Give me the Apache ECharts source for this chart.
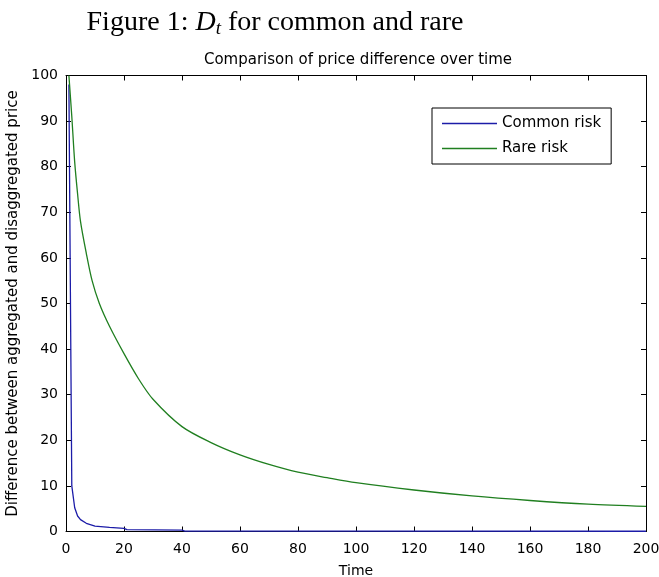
<!DOCTYPE html>
<html>
<head>
<meta charset="utf-8">
<script src="https://cdn.jsdelivr.net/npm/echarts@6/dist/echarts.min.js"></script>
<style>
  html, body { margin: 0; padding: 0; background: #fff; }
  #chart { width: 659px; height: 577px; }
</style>
</head>
<body>
<div id="chart"></div>
<script>
var commonTime  = [1, 2, 3, 4, 5, 7, 10, 15, 20, 21, 40, 41, 100, 200];
var commonValue = [98, 10, 5.2, 3.4, 2.6, 1.8, 1.2, 0.9, 0.7, 0.4, 0.3, 0.1, 0.08, 0.05];

var rareTime  = [1, 2, 3, 4, 5, 7, 9, 11.5, 15, 20, 25, 30, 40, 50, 60, 70, 80, 90, 100, 120, 140, 160, 180, 200];
var rareValue = [100, 91, 81, 74, 68, 61, 55, 50, 45, 39, 33.5, 29, 23, 19.5, 16.8, 14.7, 13, 11.8, 10.7, 9.1, 7.8, 6.8, 6.0, 5.5];

var xTicks = { min: 0, max: 200, interval: 20 };
var yTicks = { min: 0, max: 100, interval: 10 };

function pairs(xs, ys) {
    return xs.map(function (x, i) { return [x, ys[i]]; });
}

var labelFont = 'DejaVu Sans';
var axisLine = { show: true, onZero: false, lineStyle: { color: '#000', width: 1 } };
var inTick = { show: true, inside: true, length: 5, lineStyle: { color: '#000' } };

var chart = echarts.init(document.getElementById('chart'));
chart.setOption({
    backgroundColor: '#fff',
    animation: false,
    title: [
        {
            text: 'Figure 1: {i|D}{s|t} for common and rare',
            left: 270, top: 2, textAlign: 'center',
            textStyle: {
                fontFamily: 'Liberation Serif', fontSize: 28, fontWeight: 'normal', color: '#000',
                rich: {
                    i: { fontFamily: 'Liberation Serif', fontStyle: 'italic', fontSize: 28, color: '#000' },
                    s: { fontFamily: 'Liberation Serif', fontStyle: 'italic', fontSize: 19, color: '#000', padding: [12, 0, 0, 0] }
                }
            }
        },
        {
            text: 'Comparison of price difference over time',
            left: 353, top: 48, textAlign: 'center',
            textStyle: { fontFamily: labelFont, fontSize: 15, fontWeight: 'normal', color: '#000' }
        }
    ],
    legend: {
        orient: 'vertical',
        left: 432, top: 108,
        padding: [8, 10, 8, 10],
        itemGap: 10,
        itemWidth: 55, itemHeight: 1.5,
        icon: 'rect',
        borderColor: '#000', borderWidth: 1,
        backgroundColor: '#fff',
        textStyle: { fontFamily: labelFont, fontSize: 15, color: '#000' },
        data: ['Common risk', 'Rare risk']
    },
    grid: { left: 66, right: 13, top: 75.5, bottom: 45.5, show: false, outerBoundsMode: 'none', containLabel: false },
    xAxis: [
        {
            type: 'value', min: xTicks.min, max: xTicks.max, interval: xTicks.interval,
            name: 'Time', nameLocation: 'middle', nameGap: 33,
            nameTextStyle: { fontFamily: labelFont, fontSize: 14, color: '#000' },
            axisLine: axisLine, axisTick: inTick,
            axisLabel: { fontFamily: labelFont, fontSize: 14, color: '#000', margin: 11 },
            splitLine: { show: false }
        },
        {
            type: 'value', position: 'top', min: xTicks.min, max: xTicks.max, interval: xTicks.interval,
            axisLine: axisLine, axisTick: inTick, axisLabel: { show: false }, splitLine: { show: false }
        }
    ],
    yAxis: [
        {
            type: 'value', min: yTicks.min, max: yTicks.max, interval: yTicks.interval,
            name: 'Difference between aggregated and disaggregated price',
            nameLocation: 'middle', nameGap: 45,
            nameTextStyle: { fontFamily: labelFont, fontSize: 15, color: '#000' },
            axisLine: axisLine, axisTick: inTick,
            axisLabel: { fontFamily: labelFont, fontSize: 14, color: '#000', margin: 8 },
            splitLine: { show: false }
        },
        {
            type: 'value', position: 'right', min: yTicks.min, max: yTicks.max, interval: yTicks.interval,
            axisLine: axisLine, axisTick: inTick, axisLabel: { show: false }, splitLine: { show: false }
        }
    ],
    series: [
        {
            name: 'Common risk', type: 'line', symbol: 'none',
            color: '#1c1ca8',
            lineStyle: { width: 1.3, color: '#1c1ca8' },
            data: pairs(commonTime, commonValue)
        },
        {
            name: 'Rare risk', type: 'line', symbol: 'none', smooth: 0.3,
            color: '#207f20',
            lineStyle: { width: 1.3, color: '#207f20' },
            data: pairs(rareTime, rareValue)
        }
    ]
});
</script>
</body>
</html>
